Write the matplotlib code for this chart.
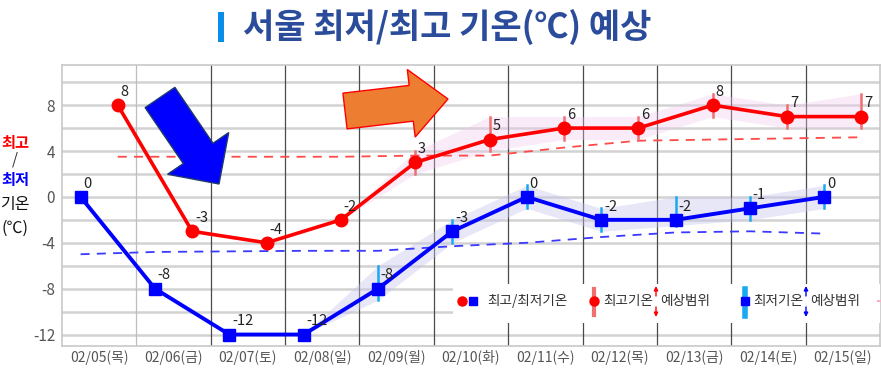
import numpy as np
import matplotlib
matplotlib.use("Agg")
import matplotlib.pyplot as plt
from matplotlib.patches import Polygon, Rectangle, FancyArrowPatch
from matplotlib.lines import Line2D

# ---------------- data ----------------
dates = ['02/05(목)', '02/06(금)', '02/07(토)', '02/08(일)', '02/09(월)', '02/10(화)',
         '02/11(수)', '02/12(목)', '02/13(금)', '02/14(토)', '02/15(일)']
tmax = [8, -3, -4, -2, 3, 5, 6, 6, 8, 7, 7]
tmin = [0, -8, -12, -12, -8, -3, 0, -2, -2, -1, 0]
tmax_normal = [3.5, 3.5, 3.5, 3.5, 3.6, 3.6, 4.3, 4.9, 5.0, 5.1, 5.2]
tmin_normal = [-5.0, -4.8, -4.75, -4.7, -4.7, -4.3, -4.0, -3.5, -3.1, -3.0, -3.2]
# forecast range (from 02/09 onward)
range_start = 4
tmax_lo = [2, 4, 5, 5, 7, 6, 6]
tmax_hi = [4, 7, 7, 7, 9, 8, 9]
tmin_lo = [-9, -4, -1, -3, -2.5, -2, -1]
tmin_hi = [-6, -2, 1, -1, 0, 0, 1]
yticks = [-12, -8, -4, 0, 4, 8]

W, H = 881, 369
def fx(x): return x / W
def fy(y): return 1 - y / H

NARROW = ['Liberation Sans Narrow', 'Noto Sans CJK KR', 'DejaVu Sans']
KR = ['Noto Sans CJK KR', 'DejaVu Sans']

fig = plt.figure(figsize=(W / 100, H / 100), dpi=100)
ax = fig.add_axes([fx(62), fy(346), (880 - 62) / W, (346 - 65) / H])

n = len(dates)
idx = np.arange(n)
xb = idx - 0.25
xr = idx + 0.25

ax.set_xlim(-0.5, n - 0.5)
ax.set_ylim(-13, 11.5)

# grid
for g in range(-12, 11, 2):
    ax.axhline(g, color='#d2d2d2', lw=1.8, zorder=0)
for k in range(n - 1):
    ax.axvline(k + 0.5, color='#bdbdbd' if k == 0 else '#4a4a4a', lw=0.9, zorder=0)
for s in ax.spines.values():
    s.set_color('#c8c8c8')
    s.set_linewidth(1.2)

# normals
ax.plot(xr, tmax_normal, color='#ff4a4a', lw=1.3, dashes=(5, 4), zorder=2)
ax.plot(xb, tmin_normal, color='#3a3aff', lw=1.3, dashes=(5, 4), zorder=2)

# bands (start from point before range)
bx_r = xr[range_start - 1:]
bx_b = xb[range_start - 1:]
ax.fill_between(bx_r, [tmax[range_start - 1]] + tmax_lo, [tmax[range_start - 1]] + tmax_hi,
                color='#f3c8f0', alpha=0.35, lw=0, zorder=1)
ax.fill_between(bx_b, [tmin[range_start - 1]] + tmin_lo, [tmin[range_start - 1]] + tmin_hi,
                color='#c4c4ee', alpha=0.4, lw=0, zorder=1)

# error bars
for j in range(len(tmax_lo)):
    i = range_start + j
    ax.plot([xr[i], xr[i]], [tmax_lo[j], tmax_hi[j]], color='#f07070', lw=1.8, zorder=3)
    ax.plot([xb[i], xb[i]], [tmin_lo[j], tmin_hi[j]], color='#1aa8f0', lw=1.8, zorder=3)

# main lines
ax.plot(xr, tmax, color='#ff0000', lw=2.6, marker='o', ms=9, zorder=4)
ax.plot(xb, tmin, color='#0000ff', lw=2.8, marker='s', ms=9, zorder=4)

for i in range(n):
    ax.annotate(str(tmax[i]), (xr[i], tmax[i]), xytext=(2, 4.5), textcoords='offset points',
                ha='left', va='bottom', fontsize=10.5, color='#222222', family=NARROW, zorder=6)
    ax.annotate(str(tmin[i]), (xb[i], tmin[i]), xytext=(2, 4.5), textcoords='offset points',
                ha='left', va='bottom', fontsize=10.5, color='#222222', family=NARROW, zorder=6)

ax.set_yticks(yticks)
ax.set_yticklabels([str(v) for v in yticks], family=NARROW, fontsize=11, color='#555555')
ax.set_xticks(idx)
ax.set_xticklabels(dates, family=NARROW, fontsize=10, color='#555555')
ax.tick_params(axis='both', length=0)
ax.tick_params(axis='y', pad=5)
ax.tick_params(axis='x', pad=3)

# ---------------- title ----------------
fig.add_artist(Rectangle((fx(218), fy(42)), 6 / W, 30 / H, transform=fig.transFigure,
                         facecolor='#0a8ceb', edgecolor='none'))
fig.text(fx(243), fy(27), '서울 최저/최고 기온(℃) 예상', ha='left', va='center',
         fontsize=24.5, fontweight='bold', color='#2b4c9b', family=KR)

# ---------------- left y label ----------------
fig.text(fx(15), fy(143), '최고', ha='center', va='center', fontsize=11, fontweight='bold', color='#ff0000', family=KR)
fig.text(fx(15), fy(160), '/', ha='center', va='center', fontsize=11, color='#333333', family=KR)
fig.text(fx(15), fy(180), '최저', ha='center', va='center', fontsize=11, fontweight='bold', color='#0000ff', family=KR)
fig.text(fx(15), fy(204), '기온', ha='center', va='center', fontsize=11.5, fontweight='medium', color='#111111', family=KR)
fig.text(fx(15), fy(228), '(℃)', ha='center', va='center', fontsize=11.5, fontweight='medium', color='#111111', family=KR)

# ---------------- arrows ----------------
def arrow_poly(tail, tip, bw, hw, hl):
    t = np.array(tail, float); p = np.array(tip, float)
    u = (p - t) / np.linalg.norm(p - t)
    nrm = np.array([-u[1], u[0]])
    b = p - hl * u
    pts = [t + nrm * bw / 2, b + nrm * bw / 2, b + nrm * hw / 2, p,
           b - nrm * hw / 2, b - nrm * bw / 2, t - nrm * bw / 2]
    return [(fx(q[0]), fy(q[1])) for q in pts]

fig.add_artist(Polygon(arrow_poly((160, 97.5), (219, 184), 36, 74, 37), closed=True,
                       transform=fig.transFigure, facecolor='#0000ff', edgecolor='#1f3a6e',
                       lw=1, zorder=5))
fig.add_artist(Polygon(arrow_poly((345, 111), (448, 99), 36, 68, 37), closed=True,
                       transform=fig.transFigure, facecolor='#ed7d31', edgecolor='#ff0000',
                       lw=1, zorder=5))

# ---------------- legend ----------------
fig.add_artist(Rectangle((fx(453), fy(323)), (880 - 453) / W, (323 - 284) / H,
                         transform=fig.transFigure, facecolor='white', edgecolor='none', zorder=1))
ly = 301
LFS = 9.8

def small_arrow(x, y0, y1, color):
    fig.add_artist(FancyArrowPatch((fx(x), fy(y0)), (fx(x), fy(y1)), transform=fig.transFigure,
                                   arrowstyle='-|>', mutation_scale=6, color=color, lw=1,
                                   shrinkA=0, shrinkB=0, zorder=7))

fig.add_artist(Line2D([fx(462)], [fy(ly)], marker='o', ms=6.5, color='#ff0000', lw=0,
                      transform=fig.transFigure, zorder=6))
fig.add_artist(Line2D([fx(473)], [fy(ly)], marker='s', ms=6, color='#0000ff', lw=0,
                      transform=fig.transFigure, zorder=6))
fig.text(fx(487), fy(ly), '최고/최저기온', ha='left', va='center', fontsize=LFS, color='#333333',
         family=KR, zorder=6)

fig.add_artist(Line2D([fx(594), fx(594)], [fy(289), fy(315)], color='#f07070', lw=3,
                      transform=fig.transFigure, zorder=6))
fig.add_artist(Line2D([fx(594)], [fy(ly)], marker='o', ms=6.5, color='#ff0000', lw=0,
                      transform=fig.transFigure, zorder=7))
fig.text(fx(603), fy(ly), '최고기온', ha='left', va='center', fontsize=LFS, color='#333333',
         family=KR, zorder=6)
small_arrow(656, 296, 286, '#ff0000')
small_arrow(656, 307, 317, '#ff0000')
fig.text(fx(660), fy(ly), '예상범위', ha='left', va='center', fontsize=LFS, color='#333333',
         family=KR, zorder=6)

fig.add_artist(Line2D([fx(745), fx(745)], [fy(289), fy(316)], color='#1aa8f0', lw=4,
                      transform=fig.transFigure, zorder=6))
fig.add_artist(Line2D([fx(745)], [fy(ly)], marker='s', ms=6, color='#0000ff', lw=0,
                      transform=fig.transFigure, zorder=7))
fig.text(fx(753), fy(ly), '최저기온', ha='left', va='center', fontsize=LFS, color='#333333',
         family=KR, zorder=6)
small_arrow(806, 296, 286, '#0000ff')
small_arrow(806, 307, 317, '#0000ff')
fig.text(fx(810), fy(ly), '예상범위', ha='left', va='center', fontsize=LFS, color='#333333',
         family=KR, zorder=6)
fig.add_artist(Line2D([fx(878), fx(881)], [fy(ly), fy(ly)], color='#f8b0c8', lw=1.5,
                      transform=fig.transFigure, zorder=6))

fig.savefig('out.png', dpi=100)
